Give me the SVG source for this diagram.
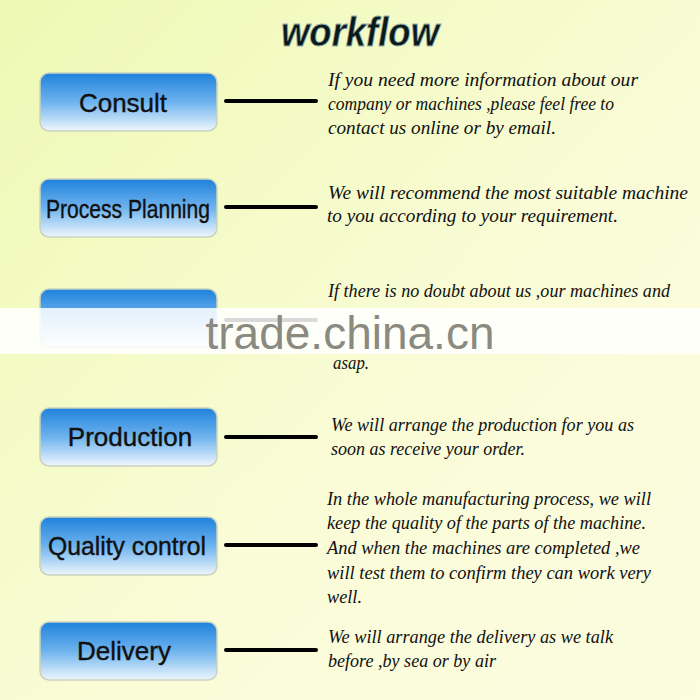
<svg xmlns="http://www.w3.org/2000/svg" width="700" height="700" viewBox="0 0 700 700">
<defs>
<linearGradient id="bg" x1="0" y1="0" x2="1" y2="1"><stop offset="0" stop-color="#eef9b4"/><stop offset="0.6" stop-color="#fafcd8"/><stop offset="1" stop-color="#fbfce0"/></linearGradient>
<linearGradient id="btn" x1="0" y1="0" x2="0" y2="1"><stop offset="0" stop-color="#1f82dc"/><stop offset="0.5" stop-color="#6eb3ee"/><stop offset="1" stop-color="#eef6fd"/></linearGradient>
<style>
.b{fill:url(#btn);stroke:#c9d3c0;stroke-width:1.5}
.bl{font-family:"Liberation Sans",Arial,sans-serif;font-size:26px;fill:#111;text-anchor:middle;stroke:#111;stroke-width:0.4}
.t{font-family:"Liberation Serif","Times New Roman",serif;font-style:italic;font-size:18.5px;fill:#111}
.c line{stroke:#000;stroke-width:4;stroke-linecap:round}
</style>
</defs>
<rect width="700" height="700" fill="url(#bg)"/>
<text x="360" y="46" font-family="Liberation Sans,Arial,sans-serif" font-size="40" font-style="italic" font-weight="bold" text-anchor="middle" fill="#0a1a1a" stroke="#9ab0b0" stroke-width="0.8" textLength="158" lengthAdjust="spacingAndGlyphs">workflow</text>
<g class="c">
<line x1="226" y1="101" x2="316" y2="101"/>
<line x1="226" y1="207" x2="316" y2="207"/>
<line x1="226" y1="320" x2="316" y2="320"/>
<line x1="226" y1="437" x2="316" y2="437"/>
<line x1="226" y1="545" x2="316" y2="545"/>
<line x1="226" y1="650" x2="316" y2="650"/>
</g>
<g id="consult"><rect class="b" x="40" y="73" width="177" height="58" rx="9"/><text class="bl" x="123" y="112">Consult</text></g>
<g id="planning"><rect class="b" x="40" y="179" width="177" height="58" rx="9"/><text class="bl" x="128" y="218" textLength="164" lengthAdjust="spacingAndGlyphs">Process Planning</text></g>
<g id="third"><rect class="b" x="40" y="289" width="177" height="58" rx="9"/></g>
<g id="production"><rect class="b" x="40" y="408" width="177" height="58" rx="9"/><text class="bl" x="130" y="446">Production</text></g>
<g id="quality"><rect class="b" x="40" y="517" width="177" height="58" rx="9"/><text class="bl" x="127" y="555" textLength="158" lengthAdjust="spacingAndGlyphs">Quality control</text></g>
<g id="delivery"><rect class="b" x="40" y="622" width="177" height="58" rx="9"/><text class="bl" x="124" y="660">Delivery</text></g>
<g id="texts" lengthAdjust="spacingAndGlyphs">
<text class="t" lengthAdjust="spacingAndGlyphs" x="328" y="86" textLength="310">If you need more information  about our</text>
<text class="t" lengthAdjust="spacingAndGlyphs" x="328" y="110" textLength="286">company or machines ,please feel free to</text>
<text class="t" lengthAdjust="spacingAndGlyphs" x="328" y="134" textLength="228">contact us online or by email.</text>
<text class="t" lengthAdjust="spacingAndGlyphs" x="328" y="199" textLength="360">We will recommend the most suitable machine</text>
<text class="t" lengthAdjust="spacingAndGlyphs" x="327" y="222" textLength="291">to you according to your requirement.</text>
<text class="t" lengthAdjust="spacingAndGlyphs" x="328" y="297" textLength="342">If there is no doubt about us ,our machines and</text>
<text class="t" lengthAdjust="spacingAndGlyphs" x="333" y="369" textLength="36">asap.</text>
<text class="t" lengthAdjust="spacingAndGlyphs" x="331" y="431" textLength="303">We will arrange the production for you as</text>
<text class="t" lengthAdjust="spacingAndGlyphs" x="331" y="455" textLength="194">soon as receive your order.</text>
<text class="t" lengthAdjust="spacingAndGlyphs" x="327" y="505" textLength="324">In the whole manufacturing process, we will</text>
<text class="t" lengthAdjust="spacingAndGlyphs" x="327" y="529" textLength="319">keep the quality of the parts of the machine.</text>
<text class="t" lengthAdjust="spacingAndGlyphs" x="327" y="554" textLength="313">And when the machines are completed ,we</text>
<text class="t" lengthAdjust="spacingAndGlyphs" x="327" y="579" textLength="324">will test them to confirm they can work very</text>
<text class="t" lengthAdjust="spacingAndGlyphs" x="327" y="603" textLength="35">well.</text>
<text class="t" lengthAdjust="spacingAndGlyphs" x="328" y="643" textLength="285">We will arrange the delivery as we talk</text>
<text class="t" lengthAdjust="spacingAndGlyphs" x="328" y="667" textLength="168">before ,by sea or by air</text>
</g>
<rect x="0" y="308" width="700" height="46" fill="#fff" opacity="0.85"/>
<text x="350" y="349" font-family="Liberation Sans,Arial,sans-serif" font-size="46" text-anchor="middle" fill="#8a8a80">trade.china.cn</text>
</svg>
